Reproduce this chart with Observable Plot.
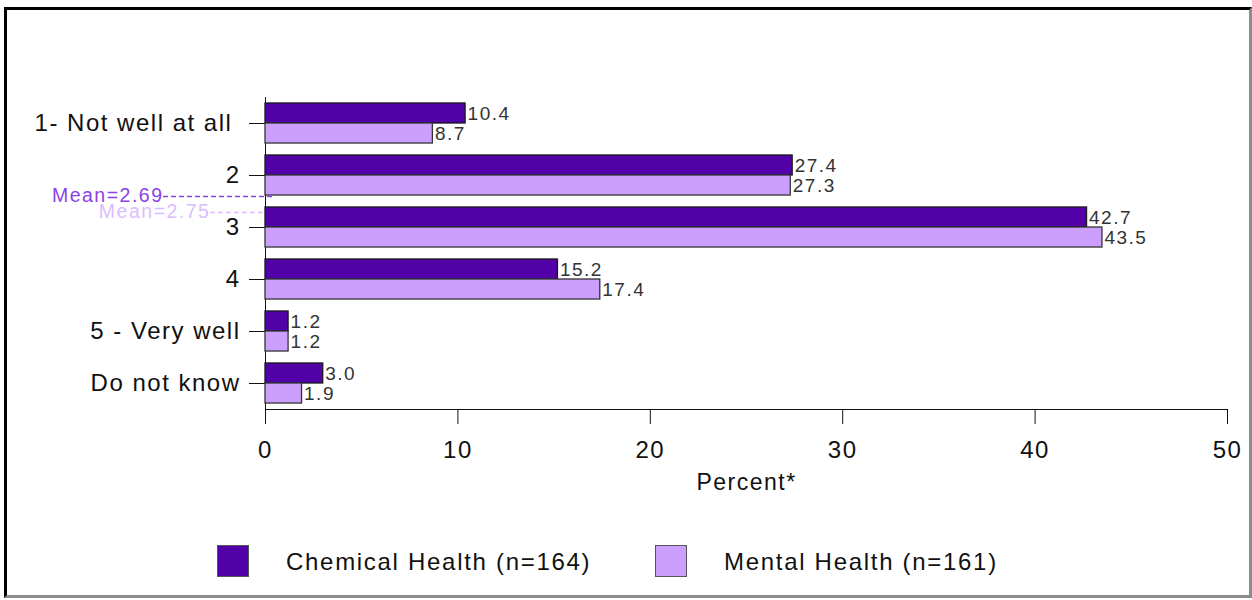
<!DOCTYPE html>
<html>
<head>
<meta charset="utf-8">
<script src="https://cdn.jsdelivr.net/npm/d3@7"></script>
<script src="https://cdn.jsdelivr.net/npm/@observablehq/plot@0.6"></script>
<style>
  body { margin: 0; background: #fff; font-family: "Liberation Sans", Arial, sans-serif; }
  #frame {
    position: absolute; left: 4px; top: 7px; width: 1242px; height: 585px;
    border-top: 3px solid #000; border-left: 3px solid #000;
    border-right: 3px solid #8c8c8c; border-bottom: 3px solid #8c8c8c;
  }
  #chart { position: absolute; left: 0; top: 0; }
  #chart svg text { letter-spacing: 1.5px; }
  #chart g[aria-label="value label"] text { letter-spacing: 1px; }
  #chart g[aria-label="mean label"] text { letter-spacing: 2px; }
  .legend-item { position: absolute; top: 545px; display: flex; align-items: center; }
  .swatch { width: 32px; height: 32px; border: 1px solid #555; box-sizing: border-box; }
  .legend-text { font-size: 24px; letter-spacing: 1.7px; color: #111; margin-left: 37px; margin-top: 2px; }
</style>
</head>
<body>
<div id="frame"></div>
<div id="chart"></div>
<div id="legend"></div>
<script>
// Response categories (top to bottom)
const categories = ["1- Not well at all ", "2", "3", "4", "5 - Very well", "Do not know"];
// Percent of respondents per category
const chemical = [10.4, 27.4, 42.7, 15.2, 1.2, 3.0];
const mental = [8.7, 27.3, 43.5, 17.4, 1.2, 1.9];
const seriesNames = ["Chemical Health (n=164)", "Mental Health (n=161)"];
const seriesColors = ["#5200a8", "#cc9fff"];
// Mean rating of each group on the 1–5 scale
const means = [2.69, 2.75];
const meanColors = ["#8a42e6", "#dbbcff"];
const xTicks = [0, 10, 20, 30, 40, 50];

const barHalf = 0.385;
const chemRows = categories.map((c, i) => ({idx: i + 1, value: chemical[i]}));
const mentRows = categories.map((c, i) => ({idx: i + 1, value: mental[i]}));

// label end / line end along x (percent units) and vertical nudge so the two means don't collide
const meanLayout = [
  {labelEnd: -5.3, lineEnd: 0.37, dy: -15},
  {labelEnd: -2.86, lineEnd: 0.05, dy: -2}
];

const meanMarks = means.flatMap((m, k) => [
  Plot.ruleY([m], {
    y: d => d, x1: meanLayout[k].labelEnd, x2: meanLayout[k].lineEnd,
    dy: meanLayout[k].dy, stroke: meanColors[k], strokeWidth: 1.5, strokeDasharray: "5,3"
  }),
  Plot.text([m], {
    y: d => d, x: meanLayout[k].labelEnd, text: d => `Mean=${d.toFixed(2)}`,
    textAnchor: "end", dy: meanLayout[k].dy - 1, fontSize: 19.5, fill: meanColors[k],
    ariaLabel: "mean label"
  })
]);

const chart = Plot.plot({
  width: 1252,
  height: 500,
  marginLeft: 265,
  marginRight: 25,
  marginTop: 97,
  marginBottom: 91,
  style: {fontFamily: '"Liberation Sans", Arial, sans-serif', fontSize: "24px", color: "#111", background: "transparent", overflow: "visible"},
  x: {domain: [0, 50], ticks: xTicks, tickSize: 15, tickPadding: 16, line: true, label: null},
  y: {
    domain: [0.5, 6.5], reverse: true, ticks: categories.map((c, i) => i + 1),
    tickFormat: i => categories[i - 1], tickSize: 16, tickPadding: 9, line: true, label: null
  },
  marks: [
    Plot.rectX(chemRows, {x1: 0, x2: "value", y1: d => d.idx - barHalf, y2: d => d.idx, fill: seriesColors[0], stroke: "#1a1a1a", strokeWidth: 1.3}),
    Plot.rectX(mentRows, {x1: 0, x2: "value", y1: d => d.idx, y2: d => d.idx + barHalf, fill: seriesColors[1], stroke: "#333", strokeWidth: 1.3}),
    Plot.text(chemRows, {x: "value", y: d => d.idx - barHalf / 2, text: d => d.value.toFixed(1), textAnchor: "start", dx: 2, fontSize: 19, fill: "#333", ariaLabel: "value label"}),
    Plot.text(mentRows, {x: "value", y: d => d.idx + barHalf / 2, text: d => d.value.toFixed(1), textAnchor: "start", dx: 2, fontSize: 19, fill: "#333", ariaLabel: "value label"}),
    ...meanMarks,
    Plot.text(["Percent*"], {frameAnchor: "bottom", text: d => d, dy: 80, fontSize: 23, fill: "#111"})
  ]
});
document.getElementById("chart").appendChild(chart);

// Legend below the chart
const legendX = [217, 655];
const legend = document.getElementById("legend");
seriesNames.forEach((name, k) => {
  const item = document.createElement("div");
  item.className = "legend-item";
  item.style.left = legendX[k] + "px";
  const sw = document.createElement("div");
  sw.className = "swatch";
  sw.style.background = seriesColors[k];
  const tx = document.createElement("span");
  tx.className = "legend-text";
  tx.textContent = name;
  item.appendChild(sw);
  item.appendChild(tx);
  legend.appendChild(item);
});
</script>
</body>
</html>
